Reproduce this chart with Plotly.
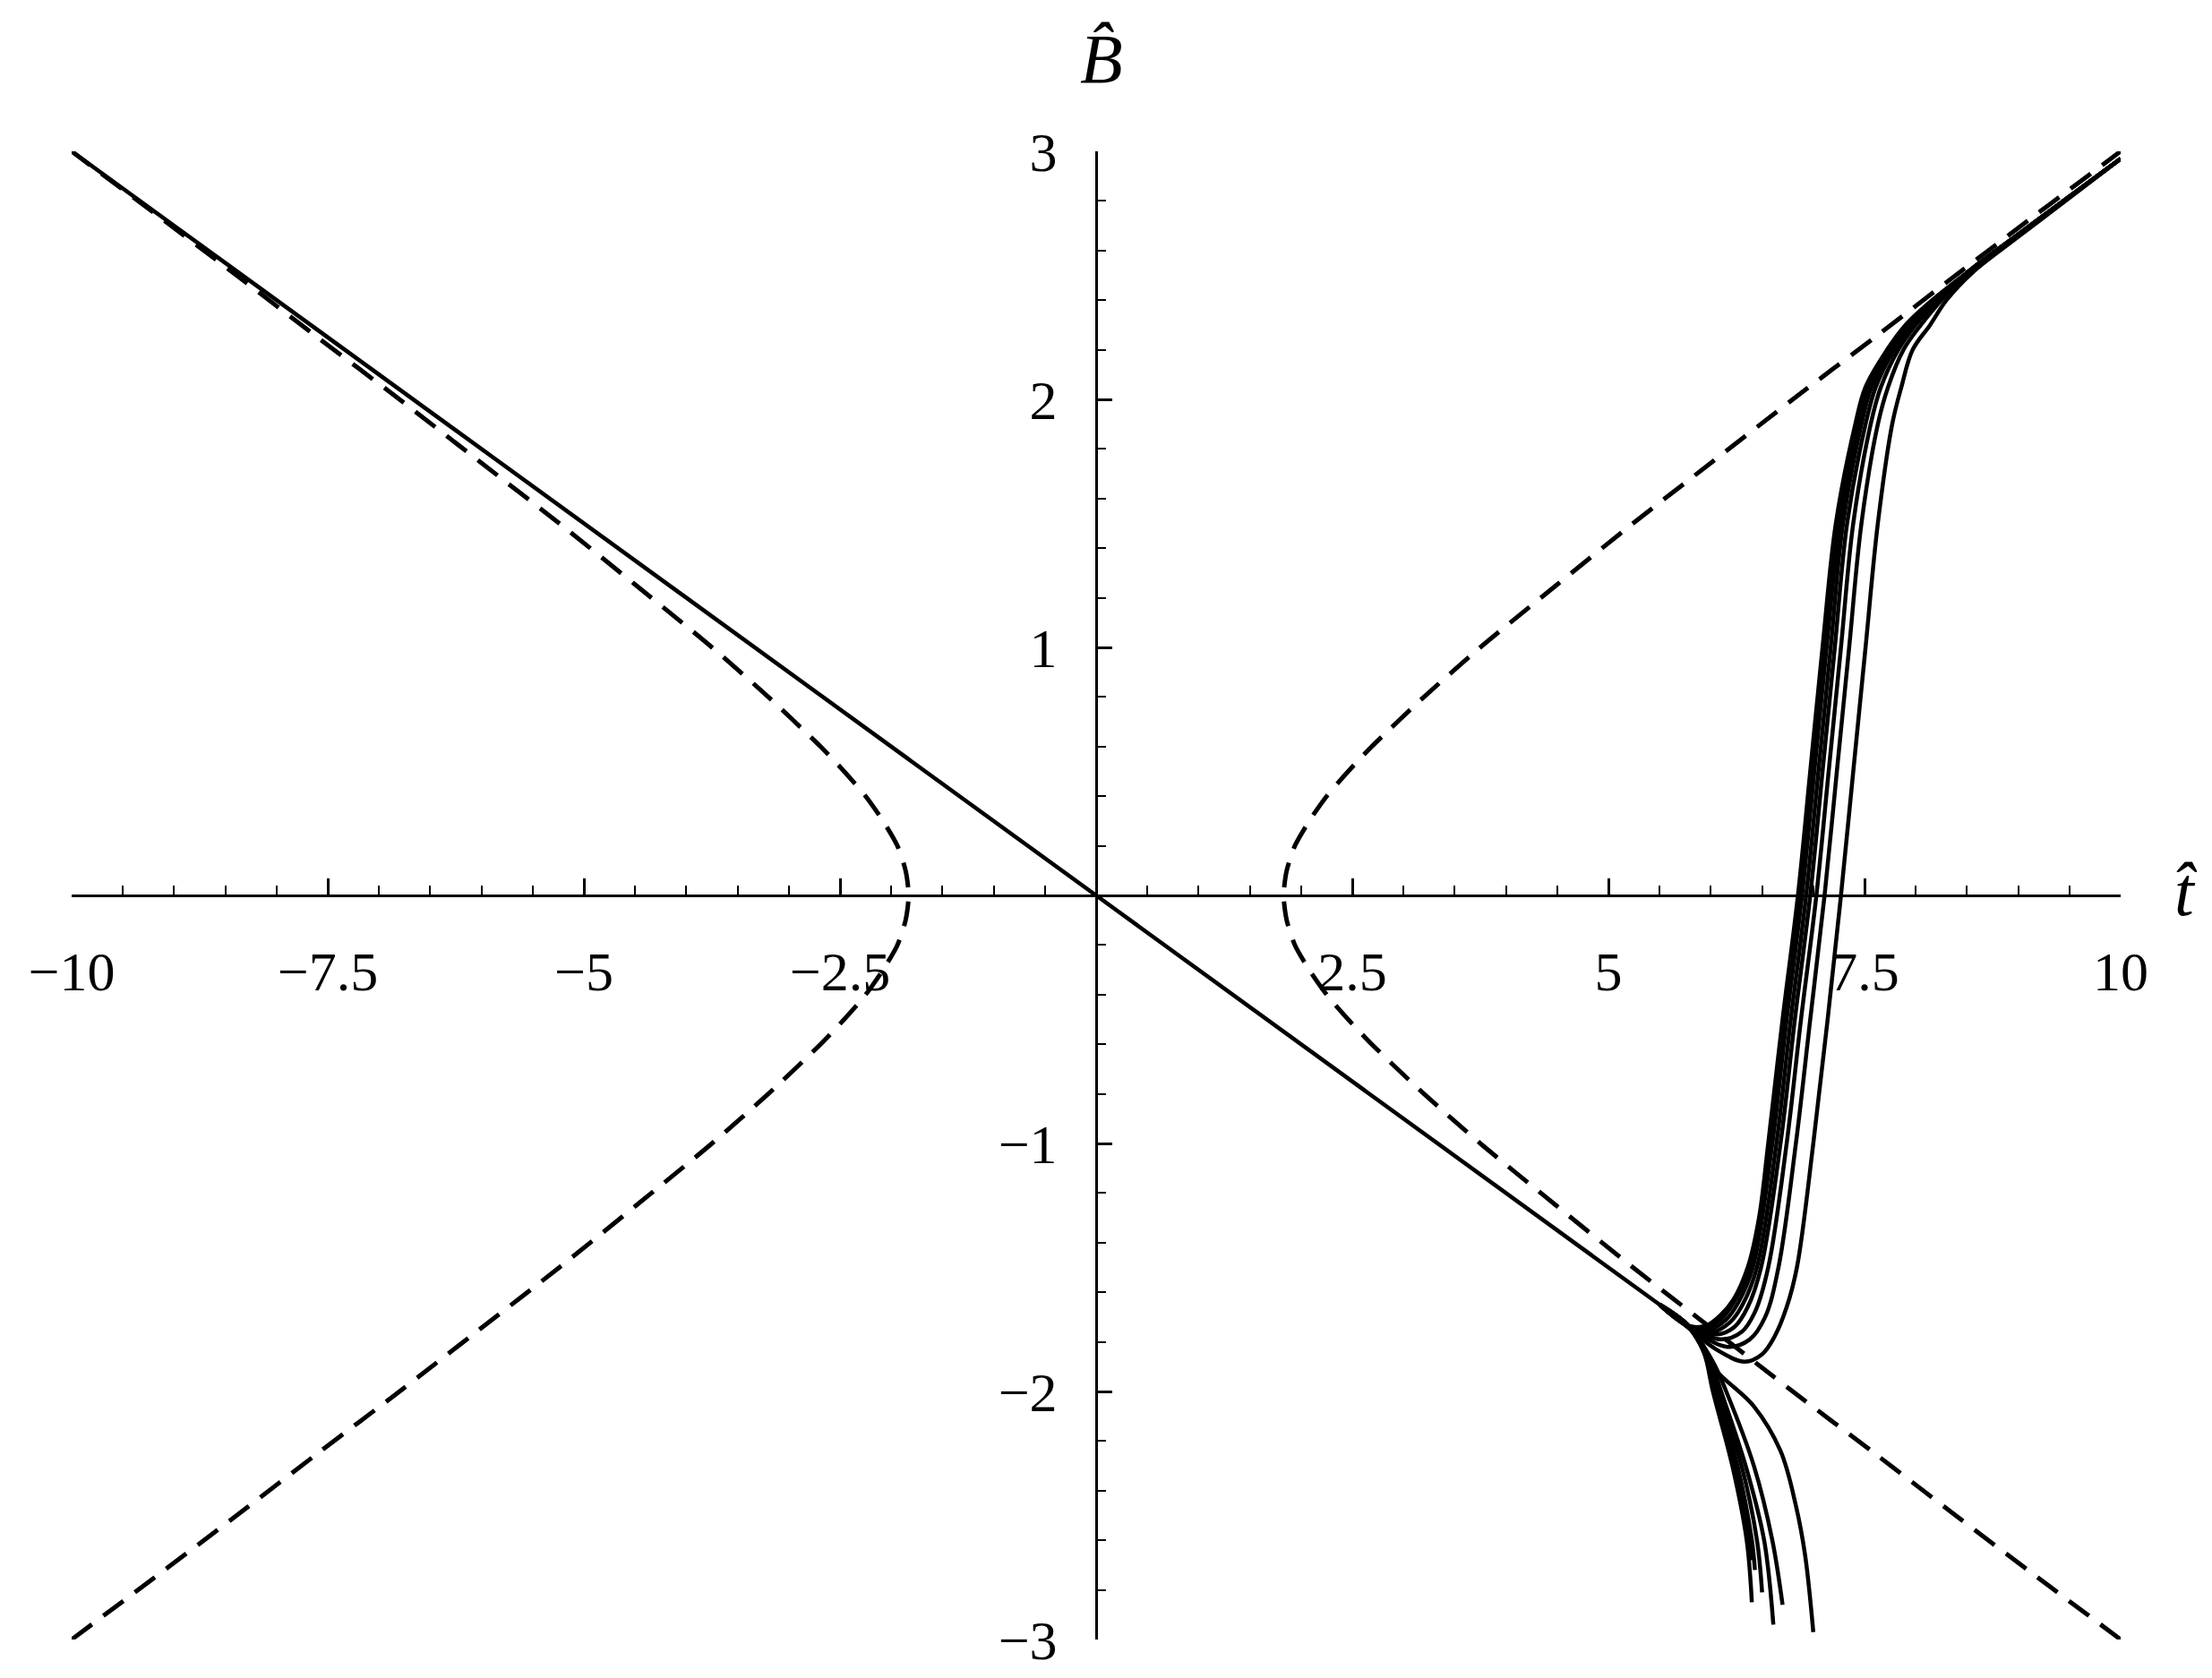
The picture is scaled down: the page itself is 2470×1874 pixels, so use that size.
import plotly.graph_objects as go

# main trunk (solid)
trunk_t = [-10, 0, 5.5]
trunk_b = [3, 0, -1.65]

# dashed hyperbola, right branch and its mirror on the left
hyp_right_t = [10.0, 9.19, 8.39, 7.60, 6.80, 6.02, 5.24, 4.49, 3.75, 3.20, 2.69, 2.46, 2.25, 2.08, 1.94, 1.86, 1.83,
               1.86, 1.94, 2.08, 2.25, 2.46, 2.69, 3.20, 3.75, 4.49, 5.24, 6.02, 6.80, 7.60, 8.39, 9.19, 10.0]
hyp_right_b = [-3.0, -2.75, -2.5, -2.25, -2.0, -1.75, -1.5, -1.25, -1.0, -0.8, -0.6, -0.5, -0.4, -0.3, -0.2, -0.1, 0.0,
               0.1, 0.2, 0.3, 0.4, 0.5, 0.6, 0.8, 1.0, 1.25, 1.5, 1.75, 2.0, 2.25, 2.5, 2.75, 3.0]
hyp_left_t = [-10.0, -9.19, -8.39, -7.60, -6.80, -6.02, -5.24, -4.49, -3.75, -3.20, -2.69, -2.46, -2.25, -2.08, -1.94, -1.86, -1.83,
              -1.86, -1.94, -2.08, -2.25, -2.46, -2.69, -3.20, -3.75, -4.49, -5.24, -6.02, -6.80, -7.60, -8.39, -9.19, -10.0]
hyp_left_b = hyp_right_b

# solutions that turn upward after the fork
rise1_t = [5.5, 5.78, 5.95, 6.10, 6.22, 6.36, 6.47, 6.56, 6.70, 6.85, 6.97, 7.09, 7.22, 7.41, 7.51, 7.72, 7.90, 8.16, 8.5, 9.0, 10]
rise1_b = [-1.65, -1.735, -1.735, -1.69, -1.63, -1.5, -1.3, -1.0, -0.5, 0, 0.5, 1.0, 1.5, 1.9, 2.05, 2.2, 2.3, 2.4, 2.51, 2.665, 2.97]
rise2_t = [5.5, 5.78, 5.97, 6.12, 6.24, 6.38, 6.58, 6.72, 6.87, 6.99, 7.11, 7.24, 7.43, 7.53, 7.73, 7.91, 8.17, 8.5, 9.0, 10]
rise2_b = [-1.65, -1.735, -1.74, -1.70, -1.63, -1.5, -1.0, -0.5, 0, 0.5, 1.0, 1.5, 1.9, 2.05, 2.2, 2.3, 2.4, 2.51, 2.665, 2.97]
rise3_t = [5.5, 5.78, 5.99, 6.15, 6.27, 6.41, 6.60, 6.74, 6.89, 7.01, 7.13, 7.26, 7.45, 7.55, 7.75, 7.92, 8.17, 8.5, 9.0, 10]
rise3_b = [-1.65, -1.735, -1.75, -1.71, -1.64, -1.5, -1.0, -0.5, 0, 0.5, 1.0, 1.5, 1.9, 2.05, 2.2, 2.3, 2.4, 2.51, 2.665, 2.97]
rise4_t = [5.5, 5.78, 6.02, 6.19, 6.31, 6.45, 6.64, 6.78, 6.93, 7.05, 7.17, 7.29, 7.47, 7.57, 7.77, 7.94, 8.18, 8.5, 9.0, 10]
rise4_b = [-1.65, -1.735, -1.76, -1.72, -1.65, -1.5, -1.0, -0.5, 0, 0.5, 1.0, 1.5, 1.9, 2.05, 2.2, 2.3, 2.4, 2.51, 2.665, 2.97]
rise5_t = [5.5, 5.79, 6.06, 6.23, 6.36, 6.49, 6.68, 6.82, 6.97, 7.09, 7.21, 7.33, 7.51, 7.61, 7.79, 7.97, 8.20, 8.5, 9.0, 10]
rise5_b = [-1.65, -1.74, -1.77, -1.74, -1.66, -1.5, -1.0, -0.5, 0, 0.5, 1.0, 1.5, 1.9, 2.05, 2.2, 2.3, 2.4, 2.51, 2.665, 2.97]
rise6_t = [5.5, 5.79, 6.10, 6.30, 6.43, 6.56, 6.74, 6.88, 7.03, 7.15, 7.27, 7.39, 7.56, 7.66, 7.83, 8.00, 8.22, 8.5, 9.0, 10]
rise6_b = [-1.65, -1.74, -1.79, -1.76, -1.68, -1.5, -1.0, -0.5, 0, 0.5, 1.0, 1.5, 1.9, 2.05, 2.2, 2.3, 2.4, 2.51, 2.665, 2.97]
rise7_t = [5.5, 5.8, 6.16, 6.38, 6.53, 6.66, 6.83, 6.97, 7.11, 7.23, 7.35, 7.47, 7.63, 7.73, 7.88, 8.05, 8.25, 8.5, 9.0, 10]
rise7_b = [-1.65, -1.745, -1.82, -1.79, -1.70, -1.5, -1.0, -0.5, 0, 0.5, 1.0, 1.5, 1.9, 2.05, 2.2, 2.3, 2.4, 2.51, 2.665, 2.97]
rise8_t = [5.5, 5.8, 6.05, 6.33, 6.5, 6.62, 6.74, 6.84, 7.0, 7.14, 7.27, 7.39, 7.51, 7.63, 7.77, 7.86, 7.97, 8.14, 8.30, 8.55, 9.0, 10]
rise8_b = [-1.65, -1.75, -1.83, -1.88, -1.85, -1.78, -1.66, -1.5, -1.0, -0.5, 0, 0.5, 1.0, 1.5, 1.9, 2.05, 2.2, 2.3, 2.4, 2.51, 2.655, 2.97]

# solutions that fall away after the fork
fall1_t = [5.5, 5.78, 5.93, 6.02, 6.21, 6.35, 6.40]
fall1_b = [-1.65, -1.735, -1.84, -2.0, -2.3, -2.6, -2.85]
fall2_t = [5.5, 5.78, 5.94, 6.03, 6.23, 6.37, 6.40]
fall2_b = [-1.65, -1.735, -1.85, -2.0, -2.3, -2.6, -2.68]
fall3_t = [5.5, 5.78, 5.95, 6.05, 6.26, 6.40, 6.43]
fall3_b = [-1.65, -1.735, -1.85, -2.0, -2.3, -2.6, -2.72]
fall4_t = [5.5, 5.78, 5.97, 6.07, 6.30, 6.45, 6.50]
fall4_b = [-1.65, -1.735, -1.86, -2.0, -2.3, -2.6, -2.81]
fall5_t = [5.5, 5.78, 5.99, 6.10, 6.34, 6.52, 6.61]
fall5_b = [-1.65, -1.735, -1.87, -2.0, -2.3, -2.6, -2.94]
fall6_t = [5.5, 5.78, 6.02, 6.15, 6.42, 6.60, 6.70]
fall6_b = [-1.65, -1.735, -1.88, -2.0, -2.3, -2.6, -2.86]
fall7_t = [5.5, 5.8, 6.04, 6.42, 6.68, 6.83, 6.92, 7.0]
fall7_b = [-1.65, -1.75, -1.91, -2.06, -2.24, -2.46, -2.66, -2.97]

x_ticks = [-10, -7.5, -5, -2.5, 2.5, 5, 7.5, 10]
x_labels = ["\u221210", "\u22127.5", "\u22125", "\u22122.5", "2.5", "5", "7.5", "10"]
y_ticks = [-3, -2, -1, 1, 2, 3]
y_labels = ["\u22123", "\u22122", "\u22121", "1", "2", "3"]

FONT = "Liberation Serif, Times New Roman, serif"

fig = go.Figure()

solid = dict(color="black", width=4.5, shape="spline", smoothing=1.0)
dashed = dict(color="black", width=5, dash="28px,16px", shape="spline", smoothing=0.7)

fig.add_trace(go.Scatter(x=hyp_left_t, y=hyp_left_b, mode="lines", line=dashed))
fig.add_trace(go.Scatter(x=hyp_right_t, y=hyp_right_b, mode="lines", line=dashed))
fig.add_trace(go.Scatter(x=trunk_t, y=trunk_b, mode="lines", line=dict(color="black", width=4.5)))

rises = [(rise1_t, rise1_b), (rise2_t, rise2_b), (rise3_t, rise3_b), (rise4_t, rise4_b),
         (rise5_t, rise5_b), (rise6_t, rise6_b), (rise7_t, rise7_b), (rise8_t, rise8_b)]
falls = [(fall1_t, fall1_b), (fall2_t, fall2_b), (fall3_t, fall3_b), (fall4_t, fall4_b),
         (fall5_t, fall5_b), (fall6_t, fall6_b), (fall7_t, fall7_b)]
for t, b in rises + falls:
    fig.add_trace(go.Scatter(x=t, y=b, mode="lines", line=solid))

fig.update_layout(
    width=2470, height=1874,
    margin=dict(l=72, r=110, t=161, b=51),
    paper_bgcolor="white", plot_bgcolor="white",
    showlegend=False,
    font=dict(family=FONT, color="black"),
)

fig.update_xaxes(
    range=[-10, 10], anchor="free", position=0.5,
    showgrid=False, zeroline=False,
    showline=True, linecolor="black", linewidth=3,
    ticks="inside", ticklen=18, tickwidth=2.5, tickcolor="black",
    tickvals=x_ticks, ticktext=x_labels,
    tickfont=dict(family=FONT, size=62, color="black"),
    ticklabelstandoff=30,
    minor=dict(ticks="inside", dtick=0.5, tick0=0, ticklen=10, tickwidth=2, tickcolor="black", showgrid=False),
)
fig.update_yaxes(
    range=[-3, 3], anchor="free", position=0.5,
    showgrid=False, zeroline=False,
    showline=True, linecolor="black", linewidth=3,
    ticks="inside", ticklen=16, tickwidth=2.5, tickcolor="black",
    tickvals=y_ticks, ticktext=y_labels,
    tickfont=dict(family=FONT, size=62, color="black"),
    ticklabelstandoff=30,
    minor=dict(ticks="inside", dtick=0.2, tick0=0, ticklen=9, tickwidth=2, tickcolor="black", showgrid=False),
)

fig.add_annotation(text="<i>B\u0302</i>", xref="paper", yref="paper", x=0.5026, y=1.062,
                   xanchor="center", yanchor="middle",
                   showarrow=False, font=dict(family=FONT, size=78, color="black"))
fig.add_annotation(text="<i>t\u0302</i>", xref="paper", yref="paper", x=1.032, y=0.503,
                   xanchor="center", yanchor="middle",
                   showarrow=False, font=dict(family=FONT, size=78, color="black"))

fig.write_html("out.html")
